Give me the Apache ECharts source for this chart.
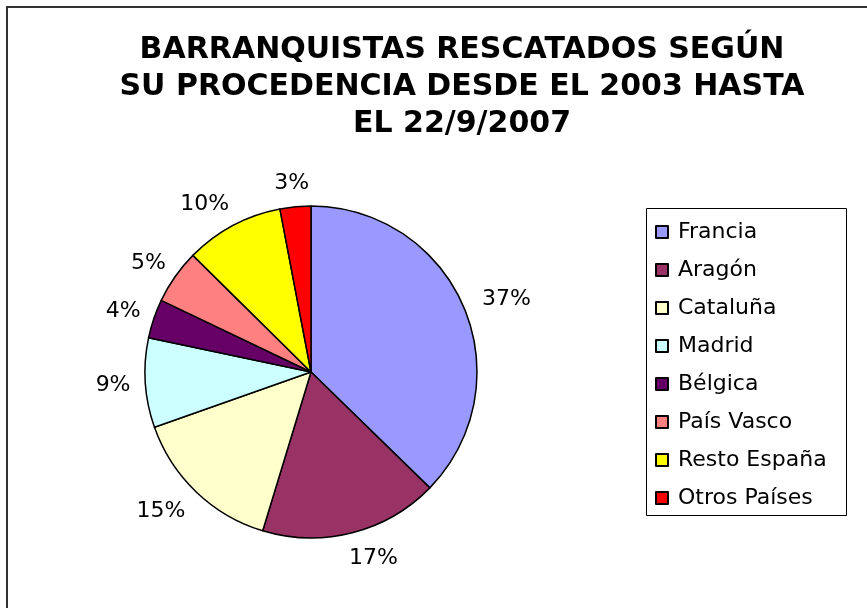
<!DOCTYPE html>
<html>
<head>
<meta charset="utf-8">
<script src="https://cdn.jsdelivr.net/npm/echarts@6/dist/echarts.min.js"></script>
<style>
  html, body { margin: 0; padding: 0; background: #fff; }
  #chart { width: 867px; height: 608px; }
</style>
</head>
<body>
<div id="chart"></div>
<script>
// datos del gráfico (porcentajes estimados a partir de los ángulos de la imagen)
const regiones = ['Francia', 'Aragón', 'Cataluña', 'Madrid', 'Bélgica', 'País Vasco', 'Resto España', 'Otros Países']
const porcentajes = [37.3, 17.4, 14.9, 8.7, 3.8, 5.3, 9.6, 3.0]
const colores = ['#9999FF', '#993366', '#FFFFCC', '#CCFFFF', '#660066', '#FF8080', '#FFFF00', '#FF0000']

const titulo = 'BARRANQUISTAS RESCATADOS SEGÚN\nSU PROCEDENCIA DESDE EL 2003 HASTA\nEL 22/9/2007'

const centro = [311, 372]
const radio = 166

let chartDom = document.getElementById('chart')
let myChart = echarts.init(chartDom)

// ángulo medio de cada porción (empezando arriba, sentido horario)
const total = porcentajes.reduce((a, b) => a + b, 0)
const angulosMedios = []
let acumulado = 0
porcentajes.forEach(v => {
  angulosMedios.push(Math.PI / 2 - (acumulado + v / 2) / total * Math.PI * 2)
  acumulado += v
})

let pieOptions = {
  backgroundColor: '#fff',
  animation: false,
  title: {
    text: titulo,
    left: 457,
    top: 27,
    textAlign: 'center',
    textStyle: {
      fontFamily: 'DejaVu Sans',
      fontWeight: 'bold',
      fontSize: 30,
      lineHeight: 37,
      color: '#000'
    }
  },
  legend: {
    orient: 'vertical',
    left: 650,
    top: 216,
    icon: 'rect',
    itemWidth: 12,
    itemHeight: 12,
    itemGap: 16,
    textStyle: {
      fontFamily: 'DejaVu Sans',
      fontSize: 22,
      lineHeight: 22,
      padding: [0, 0, 0, 5],
      color: '#000'
    },
    data: regiones
  },
  graphic: [
    // marco del área del gráfico
    { type: 'polyline', shape: { points: [[7, 608], [7, 7], [867, 7]] }, style: { stroke: '#333', lineWidth: 2, fill: null } },
    // marco de la leyenda
    { type: 'rect', shape: { x: 646.5, y: 208.5, width: 200, height: 307 }, style: { stroke: '#000', lineWidth: 1, fill: null }, z: -1 }
  ],
  series: [
    {
      type: 'pie',
      center: centro,
      radius: radio,
      startAngle: 90,
      clockwise: true,
      silent: true,
      avoidLabelOverlap: false,
      itemStyle: { borderColor: '#000', borderWidth: 1.5 },
      label: {
        show: true,
        position: 'outside',
        formatter: p => Math.round(p.percent) + '%',
        fontFamily: 'DejaVu Sans',
        fontSize: 22,
        color: '#000'
      },
      labelLine: { show: false },
      // etiquetas fuera del círculo, como en Excel
      labelLayout: function (params) {
        const a = angulosMedios[params.dataIndex]
        const rx = radio * 1.19
        const ry = radio * 1.15
        const lado = Math.cos(a) >= 0 ? 1 : -1
        const extra = Math.max(0, params.labelRect.width - 34) * 0.9
        return {
          x: centro[0] + rx * Math.cos(a) + lado * extra,
          y: centro[1] - ry * Math.sin(a) + 1,
          align: 'center',
          verticalAlign: 'middle'
        }
      },
      data: regiones.map((name, i) => ({ name: name, value: porcentajes[i], itemStyle: { color: colores[i] } }))
    }
  ]
}
myChart.setOption(pieOptions)
</script>
</body>
</html>
